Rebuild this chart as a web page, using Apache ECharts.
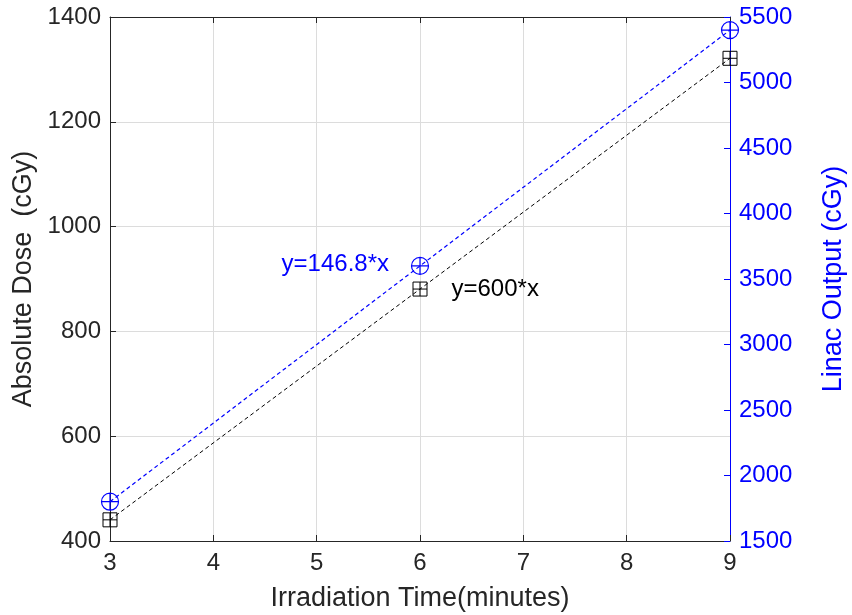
<!DOCTYPE html>
<html>
<head>
<meta charset="utf-8">
<script src="https://cdn.jsdelivr.net/npm/echarts@6/dist/echarts.min.js"></script>
<style>
  html, body { margin: 0; padding: 0; background: #fff; }
  #chart { width: 852px; height: 615px; }
</style>
</head>
<body>
<div id="chart"></div>
<script>
// Irradiation time (minutes)
const times = [3, 6, 9];
// Absolute dose (cGy), left axis
const absoluteDose = [440.4, 880.8, 1321.2];
// Linac output (cGy), right axis
const linacOutput = [1800, 3600, 5400];
// Fit equations shown next to the middle points
const doseFitLabel = 'y=600*x';
const outputFitLabel = 'y=146.8*x';

const FONT = '"Liberation Sans", Arial, Helvetica, sans-serif';
const AXIS_DARK = '#262626';
const BLUE = '#0000ff';
const GRID = '#dcdcdc';
const TICK_FONT = 24;
const TITLE_FONT = 27;

// Circle and square marker outlines with a cross through the centre
const circlePlus = 'path://M0,10A10,10 0 1,1 20,10A10,10 0 1,1 0,10Z M0,10L20,10 M10,0L10,20';
const squarePlus = 'path://M0,0L20,0L20,20L0,20Z M0,10L20,10 M10,0L10,20';

const plain = v => String(v);

function pairs(xs, ys) {
  return xs.map((x, i) => [x, ys[i]]);
}

const doseData = pairs(times, absoluteDose).map((p, i) => {
  const item = { value: p };
  if (i === 1) {
    item.label = {
      show: true, formatter: doseFitLabel, position: 'right', distance: 22,
      color: '#000', fontSize: 24, fontFamily: FONT
    };
  }
  return item;
});
const outputData = pairs(times, linacOutput).map((p, i) => {
  const item = { value: p };
  if (i === 1) {
    item.label = {
      show: true, formatter: outputFitLabel, position: 'left', distance: 20,
      offset: [0, -2], color: BLUE, fontSize: 24, fontFamily: FONT
    };
  }
  return item;
});

const chart = echarts.init(document.getElementById('chart'), null, { renderer: 'canvas' });
chart.setOption({
  animation: false,
  backgroundColor: '#fff',
  grid: {
    left: 110, right: 122, top: 17, bottom: 74,
    containLabel: false, outerBoundsMode: 'none'
  },
  xAxis: [
    {
      type: 'value', min: 3, max: 9, interval: 1, position: 'bottom',
      name: 'Irradiation Time(minutes)', nameLocation: 'middle', nameGap: 44,
      nameTextStyle: { fontSize: TITLE_FONT, color: AXIS_DARK, fontFamily: FONT },
      axisLine: { show: true, lineStyle: { color: AXIS_DARK, width: 1 } },
      axisTick: { show: true, inside: true, length: 6, lineStyle: { color: AXIS_DARK } },
      axisLabel: { fontSize: TICK_FONT, color: AXIS_DARK, fontFamily: FONT, margin: 10, formatter: plain },
      splitLine: { show: true, lineStyle: { color: GRID, width: 1 } }
    },
    {
      type: 'value', min: 3, max: 9, interval: 1, position: 'top',
      axisLine: { show: true, lineStyle: { color: AXIS_DARK, width: 1 } },
      axisTick: { show: true, inside: true, length: 6, lineStyle: { color: AXIS_DARK } },
      axisLabel: { show: false },
      splitLine: { show: false }
    }
  ],
  yAxis: [
    {
      type: 'value', min: 400, max: 1400, interval: 200, position: 'left',
      name: 'Absolute Dose  (cGy)', nameLocation: 'middle', nameGap: 70,
      nameTextStyle: { fontSize: TITLE_FONT, color: AXIS_DARK, fontFamily: FONT },
      axisLine: { show: true, lineStyle: { color: AXIS_DARK, width: 1 } },
      axisTick: { show: true, inside: true, length: 6, lineStyle: { color: AXIS_DARK } },
      axisLabel: { fontSize: TICK_FONT, color: AXIS_DARK, fontFamily: FONT, margin: 9, formatter: plain },
      splitLine: { show: true, lineStyle: { color: GRID, width: 1 } }
    },
    {
      type: 'value', min: 1500, max: 5500, interval: 500, position: 'right',
      name: 'Linac Output (cGy)', nameLocation: 'middle', nameGap: 90, nameRotate: 90,
      nameTextStyle: { fontSize: TITLE_FONT, color: BLUE, fontFamily: FONT },
      axisLine: { show: true, lineStyle: { color: BLUE, width: 1 } },
      axisTick: { show: true, inside: true, length: 6, lineStyle: { color: BLUE } },
      axisLabel: { fontSize: TICK_FONT, color: BLUE, fontFamily: FONT, margin: 9, formatter: plain },
      splitLine: { show: false }
    }
  ],
  series: [
    {
      name: 'Absolute Dose', type: 'line', xAxisIndex: 0, yAxisIndex: 0,
      data: doseData,
      symbol: squarePlus, symbolSize: 14, showAllSymbol: true,
      lineStyle: { color: '#000', width: 1, type: [4, 3] },
      itemStyle: { color: 'none', borderColor: '#000', borderWidth: 1 },
      z: 3
    },
    {
      name: 'Linac Output', type: 'line', xAxisIndex: 0, yAxisIndex: 1,
      data: outputData,
      symbol: circlePlus, symbolSize: 17, showAllSymbol: true,
      lineStyle: { color: BLUE, width: 1.2, type: [4, 3] },
      itemStyle: { color: 'none', borderColor: BLUE, borderWidth: 1.2 },
      z: 3
    }
  ]
});
</script>
</body>
</html>
